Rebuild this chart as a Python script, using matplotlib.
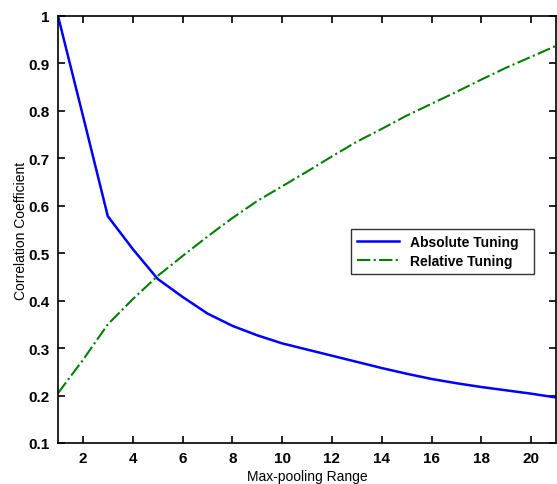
import numpy as np
import matplotlib
matplotlib.use("Agg")
import matplotlib.pyplot as plt

# valores
pool_range = [1, 2, 3, 4, 5, 6, 7, 8, 9, 10, 11, 12, 13, 14, 15, 16, 17, 18, 19, 20, 21]
absolute = [1.0, 0.79, 0.578, 0.509, 0.446, 0.408, 0.373, 0.347, 0.327, 0.310, 0.297,
            0.284, 0.271, 0.258, 0.246, 0.235, 0.226, 0.218, 0.211, 0.204, 0.196]
relative = [0.205, 0.275, 0.35, 0.403, 0.452, 0.494, 0.535, 0.574, 0.61, 0.641, 0.672,
            0.704, 0.735, 0.762, 0.79, 0.815, 0.84, 0.866, 0.891, 0.914, 0.937]
xticks = [2, 4, 6, 8, 10, 12, 14, 16, 18, 20]
yticks = [0.1, 0.2, 0.3, 0.4, 0.5, 0.6, 0.7, 0.8, 0.9, 1.0]
ytick_labels = ["0.1", "0.2", "0.3", "0.4", "0.5", "0.6", "0.7", "0.8", "0.9", "1"]

plt.rcParams["font.family"] = ["Liberation Sans", "DejaVu Sans"]

fig = plt.figure(figsize=(5.57, 4.85), dpi=100)
ax = fig.add_axes([58 / 557, 41 / 485, 498 / 557, 427 / 485])

ax.plot(pool_range, absolute, color=(0, 0, 1), lw=1.8, label="Absolute Tuning")
ax.plot(pool_range, relative, color=(0, 0.5, 0), lw=1.5, ls="-.", label="Relative Tuning")

ax.set_xlim(1, 21)
ax.set_ylim(0.1, 1.0)
ax.set_xticks(xticks)
ax.set_yticks(yticks)
ax.set_yticklabels(ytick_labels)
ax.tick_params(direction="in", top=True, right=True, length=5, width=1.2,
               labelsize=11, pad=6)
for lab in ax.get_xticklabels() + ax.get_yticklabels():
    lab.set_fontweight("bold")
for s in ax.spines.values():
    s.set_linewidth(1.2)

ax.set_xlabel("Max-pooling Range", fontsize=10, labelpad=3)
ax.set_ylabel("Correlation Coefficient", fontsize=10, labelpad=0)

leg = ax.legend(loc="lower left", bbox_to_anchor=(0.589, 0.396, 0.367, 0.133),
                mode="expand", fontsize=10, frameon=True, fancybox=False,
                edgecolor="black", borderpad=0.4, handlelength=3.0,
                handletextpad=0.8, labelspacing=0.4, borderaxespad=0)
leg.get_frame().set_linewidth(1.0)
for t in leg.get_texts():
    t.set_fontweight("bold")

fig.savefig("out.png", dpi=100)
